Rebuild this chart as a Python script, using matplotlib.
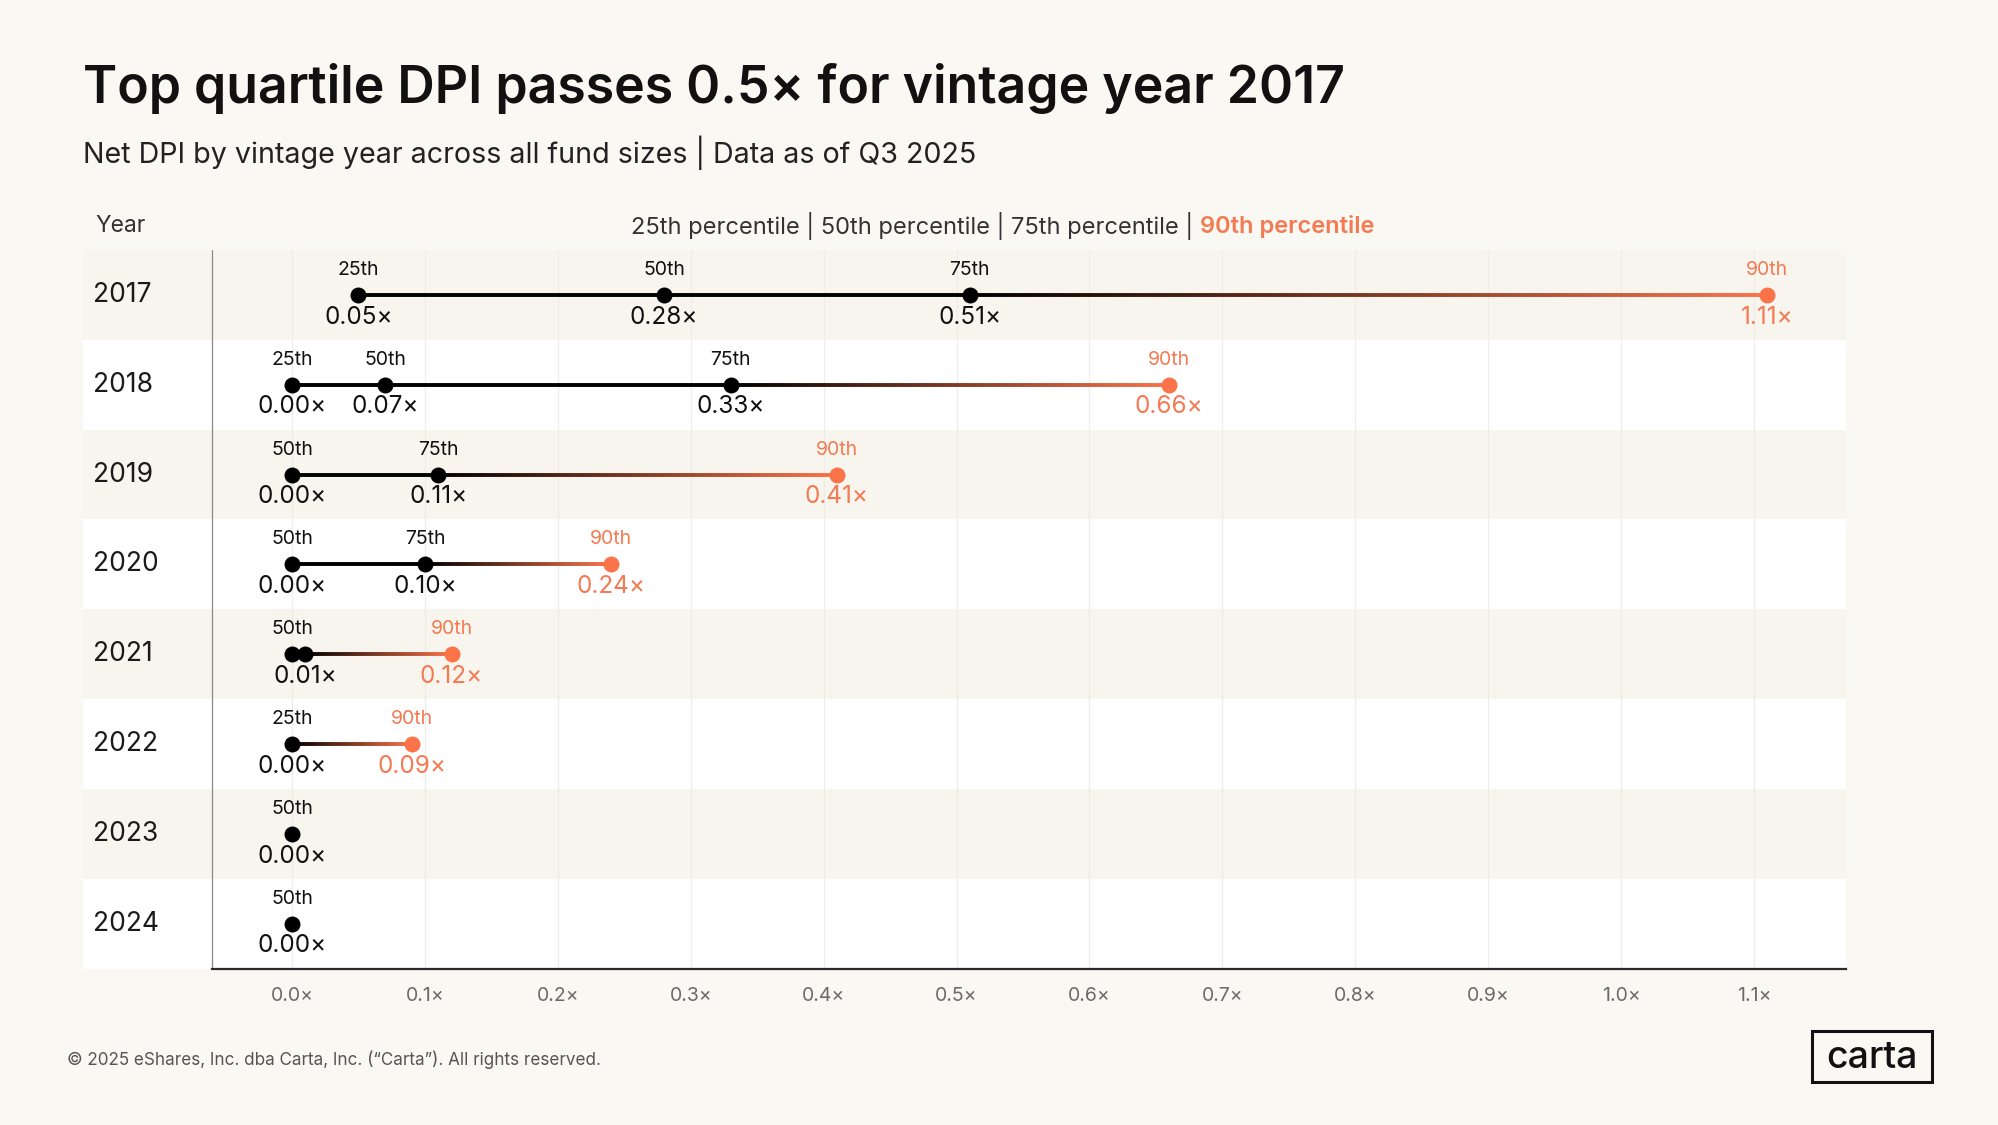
import numpy as np
import matplotlib
matplotlib.use("Agg")
import matplotlib.pyplot as plt
from matplotlib.collections import LineCollection
from matplotlib.colors import to_rgb
from matplotlib.patches import Rectangle

plt.rcParams["font.family"] = ["Inter", "DejaVu Sans"]

# ── Data ───────────────────────────────────────────────────────────────────────
years = [2017, 2018, 2019, 2020, 2021, 2022, 2023, 2024]
p25 = [0.05, 0.00, None, None, None, 0.00, None, None]
p50 = [0.28, 0.07, 0.00, 0.00, 0.00, None, 0.00, 0.00]
p75 = [0.51, 0.33, 0.11, 0.10, 0.01, None, None, None]
p90 = [1.11, 0.66, 0.41, 0.24, 0.12, 0.09, None, None]
pct_names = ["25th", "50th", "75th", "90th"]
hide_name = {(2021, "75th")}
hide_value = {(2021, "50th")}
tick_vals = [0.0, 0.1, 0.2, 0.3, 0.4, 0.5, 0.6, 0.7, 0.8, 0.9, 1.0, 1.1]

BG = "#FAF8F3"
BAND = "#F8F5EE"
ORANGE = "#FB7349"
ORANGE_TXT = "#F37A52"
INK = "#111111"

W, H = 1999, 1125
fig = plt.figure(figsize=(W / 100, H / 100), dpi=100, facecolor=BG)

def fx(px):
    return px / W

def fy(py):
    return 1 - py / H

XMIN, XMAX = -0.1573, 1.1693
Y_AXIS_X = -0.060

ax = fig.add_axes([fx(83), fy(968.5), fx(1846) - fx(83), fy(250) - fy(968.5)])
ax.set_facecolor(BG)
ax.set_xlim(XMIN, XMAX)
ax.set_ylim(len(years) - 0.5, -0.5)
for s in ["top", "right", "left", "bottom"]:
    ax.spines[s].set_visible(False)
ax.set_yticks([])
ax.set_xticks(tick_vals)
ax.set_xticklabels([f"{t:.1f}×" for t in tick_vals], fontsize=14, color="#6b6b6b")
ax.tick_params(axis="x", length=0, pad=13)

# row bands
for i in range(len(years)):
    ax.axhspan(i - 0.5, i + 0.5, color=BAND if i % 2 == 0 else "white", zorder=0, lw=0)

# grid lines
for t in tick_vals:
    ax.axvline(t, color="#EFEDE8", lw=0.9, zorder=1)
ax.axvline(Y_AXIS_X, color="#8a8a8a", lw=0.9, zorder=2)
ax.axhline(len(years) - 0.5, xmin=(Y_AXIS_X - XMIN) / (XMAX - XMIN), xmax=1,
           color="#2a2a2a", lw=1.6, zorder=2, clip_on=False)

black_rgb = np.array(to_rgb("#000000"))
orange_rgb = np.array(to_rgb(ORANGE))

for i, yr in enumerate(years):
    vals = [p25[i], p50[i], p75[i], p90[i]]
    pts = [(n, v) for n, v in zip(pct_names, vals) if v is not None]
    has90 = p90[i] is not None
    black_pts = [v for n, v in pts if n != "90th"]

    if len(black_pts) > 1:
        ax.plot([min(black_pts), max(black_pts)], [i, i], color="black", lw=2.8,
                solid_capstyle="butt", zorder=3)
    if has90 and black_pts:
        x0, x1 = max(black_pts), p90[i]
        n = 120
        gx = np.linspace(x0, x1, n + 1)
        segs = [[(gx[k], i), (gx[k + 1], i)] for k in range(n)]
        f = np.linspace(0, 1, n)[:, None]
        cols = black_rgb * (1 - f) + orange_rgb * f
        ax.add_collection(LineCollection(segs, colors=cols, linewidths=2.8,
                                         capstyle="butt", zorder=3))

    ax.text(-0.1497, i, str(yr), fontsize=19, color="#1a1a1a", ha="left", va="center")

    for name, v in pts:
        is90 = name == "90th"
        ax.plot(v, i, "o", ms=11.5, color=ORANGE if is90 else "black",
                mec="none", zorder=5)
        tc = ORANGE_TXT if is90 else INK
        if (yr, name) not in hide_name:
            ax.annotate(name, (v, i), xytext=(0, 18), textcoords="offset points",
                        ha="center", va="center", fontsize=14, color=tc)
        if (yr, name) not in hide_value:
            ax.annotate(f"{v:.2f}×", (v, i), xytext=(0, -16), textcoords="offset points",
                        ha="center", va="center", fontsize=17.5, color=tc)

# ── Titles and header ─────────────────────────────────────────────────────────
fig.text(fx(83), fy(103), "Top quartile DPI passes 0.5× for vintage year 2017",
         fontsize=37.3, fontweight="semibold", color=INK, ha="left", va="baseline")
fig.text(fx(83), fy(163), "Net DPI by vintage year across all fund sizes | Data as of Q3 2025",
         fontsize=20.6, color="#222222", ha="left", va="baseline")
fig.text(fx(95), fy(226), "Year", fontsize=16.5, color="#333333", ha="left", va="center")

leg = fig.text(fx(631), fy(226), "25th percentile | 50th percentile | 75th percentile |",
               fontsize=17, color="#333333", ha="left", va="center")
fig.canvas.draw()
bb = leg.get_window_extent()
fig.text(fx(bb.x1 + 7), fy(226), "90th percentile", fontsize=17,
         fontweight="semibold", color=ORANGE_TXT, ha="left", va="center")

# ── Footer ─────────────────────────────────────────────────────────────────────
fig.text(fx(67), fy(1060), "© 2025 eShares, Inc. dba Carta, Inc. (“Carta”). All rights reserved.",
         fontsize=12.3, color="#555555", ha="left", va="center")
fig.patches.append(Rectangle((fx(1812), fy(1082)), fx(1932) - fx(1812), fy(1031) - fy(1082),
                             transform=fig.transFigure, fill=False, ec="#111111", lw=2.2))
fig.text(fx(1872), fy(1058), "carta", fontsize=27, fontweight="medium", color="#111111",
         ha="center", va="center")

fig.savefig("out.png", dpi=100, facecolor=BG)
